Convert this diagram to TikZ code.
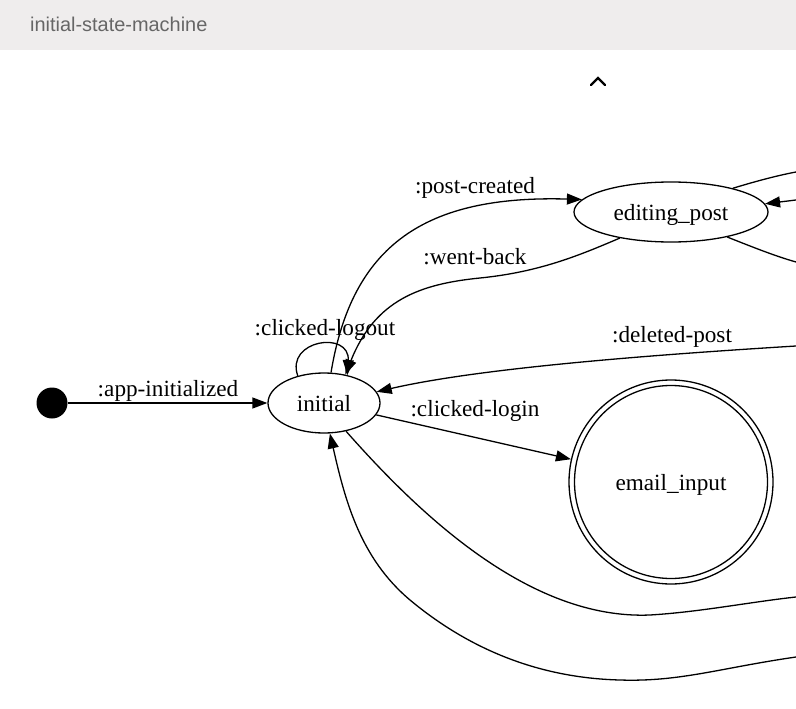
\documentclass[tikz,border=0pt]{standalone}
\usepackage{fontspec}
\setmainfont{Liberation Serif}
\newfontfamily\hdrfont{Liberation Sans}
\usetikzlibrary{shapes.geometric,arrows.meta}
\definecolor{hdrbg}{HTML}{EFEDED}
\definecolor{hdrtxt}{HTML}{666666}
\begin{document}
\begin{tikzpicture}[x=1bp,y=-1bp,
  every node/.style={font=\fontsize{23.3}{27}\selectfont},
  st/.style={ellipse,draw,line width=1.3bp,inner sep=0pt,text depth=0pt},
  edge/.style={line width=1.3bp},
  arr/.style={edge,-{Triangle[length=15bp,width=11bp]}},
  lbl/.style={anchor=base,inner sep=0pt}]
\useasboundingbox (0,0) rectangle (796,709);
% header
\fill[hdrbg] (0,0) rectangle (796,50);
\node[anchor=base west,inner sep=0pt,text=hdrtxt,font=\hdrfont\fontsize{20}{23}\selectfont] (title) at (30,32) {initial-state-machine};
% caret
\draw[line width=2.4bp,line cap=round,line join=miter] (591,85) -- (598,78) -- (605,85);
% nodes
\node[circle,fill=black,minimum size=31bp,inner sep=0pt] (start) at (52,403) {};
\node[st,minimum width=112bp,minimum height=60bp] (initial) at (324,403) {initial};
\node[st,minimum width=194bp,minimum height=60bp] (editing) at (671,212) {editing\_post};
\node[circle,draw,line width=1.3bp,minimum size=204bp,inner sep=0pt,text depth=0pt] (email) at (671,482) {email\_input};
\draw[line width=1.3bp] (email.center) circle (96.5bp);
% free ends
\coordinate (r1) at (796,172);
\coordinate (r2) at (796,200);
\coordinate (r3) at (796,262);
\coordinate (r4) at (796,346);
\coordinate (r5) at (796,597);
\coordinate (r6) at (796,657);
% edges
\draw[arr] (start) -- (initial);
\node[lbl] (l1) at (168,396) {:app-initialized};
\draw[arr] (initial.77) .. controls (352,245) and (425,195) .. (editing.172);
\node[lbl] (l2) at (475,193) {:post-created};
\draw[arr] (editing.207) .. controls (580,255) and (540,272) .. (480,278) .. controls (420,284) and (375,300) .. (initial.53);
\node[lbl] (l3) at (475,264) {:went-back};
\draw[arr] (initial.134) .. controls (285,340) and (350,330) .. (initial.50);
\node[lbl] (l4) at (325,335) {:clicked-logout};
\draw[arr] (r4) .. controls (650,355) and (480,368) .. (initial.12);
\node[lbl] (l5) at (672,342) {:deleted-post};
\draw[arr] (initial) -- (email);
\node[lbl] (l6) at (475,416) {:clicked-login};
\draw[edge] (initial.-52) .. controls (420,515) and (530,620) .. (650,615) .. controls (700,612) and (750,602) .. (r5);
\draw[arr] (r6) .. controls (720,668) and (680,682) .. (620,680) .. controls (540,678) and (470,650) .. (410,600) .. controls (360,558) and (345,500) .. (initial.-79);
\draw[edge] (editing.21) .. controls (760,180) and (780,175) .. (r1);
\draw[arr] (r2) -- (editing.5);
\draw[edge] (editing.-24) .. controls (755,248) and (775,256) .. (r3);
\end{tikzpicture}
\end{document}
